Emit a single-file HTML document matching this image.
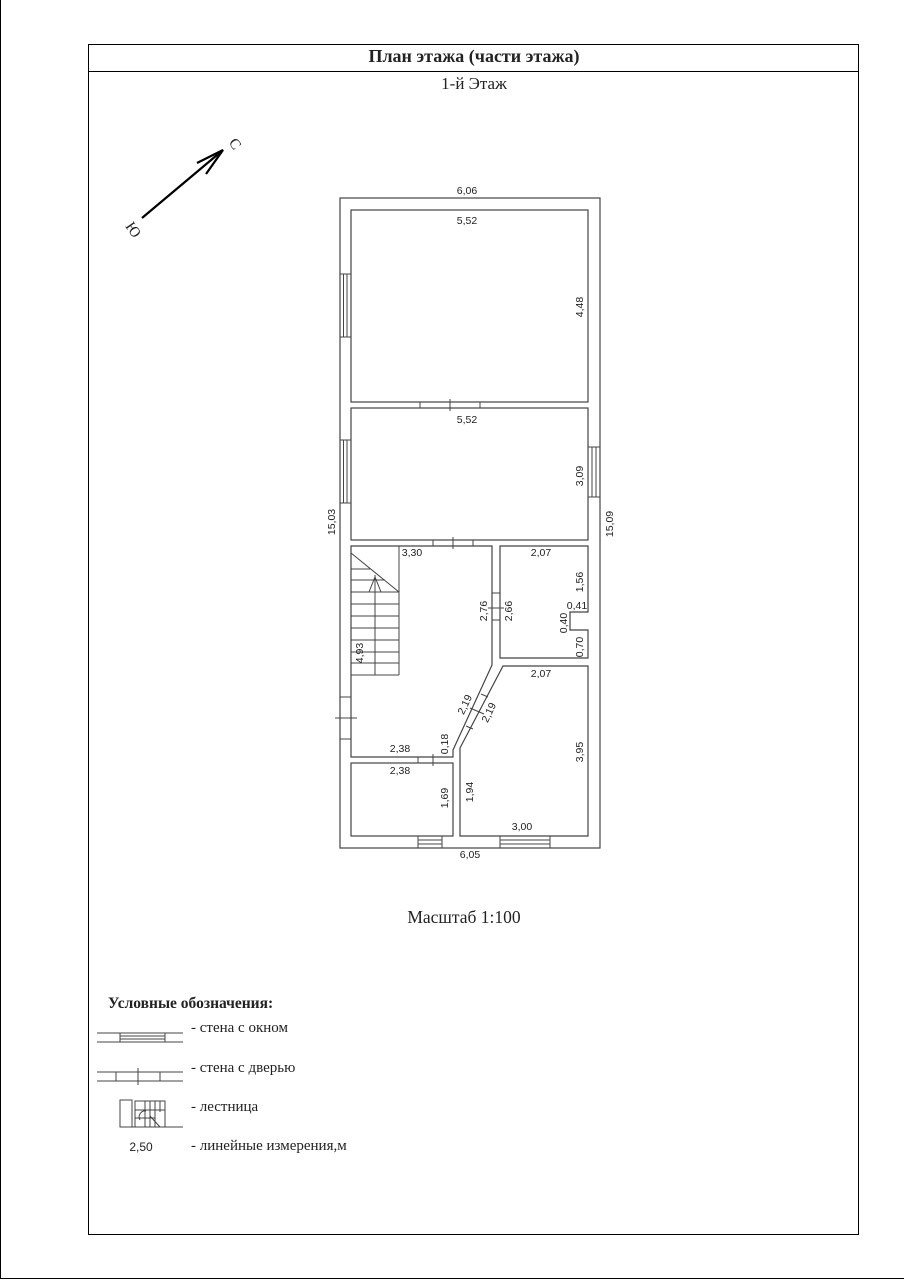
<!DOCTYPE html>
<html><head><meta charset="utf-8"><style>
body{margin:0;background:#fff;}
svg{display:block;}
text{font-family:"Liberation Sans",sans-serif;font-size:10.5px;fill:#222;}
.s{font-family:"Liberation Serif",serif;}
</style></head><body>
<svg width="904" height="1280" viewBox="0 0 904 1280" xmlns="http://www.w3.org/2000/svg">
<g fill="none" stroke="#000" stroke-width="1">
<line x1="0.5" y1="0" x2="0.5" y2="1279"/>
<line x1="0" y1="1278.5" x2="904" y2="1278.5"/>
<rect x="88.5" y="44.5" width="770" height="1190"/>
<line x1="88" y1="71.5" x2="859" y2="71.5"/>
</g>
<text class="s" x="474" y="62" text-anchor="middle" style="font-size:18px;font-weight:bold">План этажа (части этажа)</text>
<text class="s" x="474" y="89" text-anchor="middle" style="font-size:17px">1-й Этаж</text>
<g stroke="#000" stroke-width="2.2" fill="none">
<line x1="142" y1="218" x2="223" y2="150"/>
<polyline points="197,163 223,150 206,174"/>
</g>
<text class="s" x="227" y="145" transform="rotate(55 230 145)" style="font-size:15px">С</text>
<text class="s" x="124" y="232" transform="rotate(55 130 230)" style="font-size:15px">Ю</text>
<g fill="none" stroke="#444" stroke-width="1.2">
<rect x="340" y="198" width="260" height="650"/>
<rect x="351" y="210" width="237" height="192"/>
<rect x="351" y="408" width="237" height="132"/>
<polygon points="351,546 492,546 492,665 453,750 453,757 351,757"/>
<polygon points="500,546 588,546 588,612 570,612 570,630 588,630 588,658 500,658"/>
<polygon points="503,666 588,666 588,836 460,836 460,748"/>
<rect x="351" y="763" width="102" height="73"/>
<g stroke-width="1">
<rect x="340" y="274" width="11" height="63"/><line x1="343.5" y1="274" x2="343.5" y2="337"/><line x1="347" y1="274" x2="347" y2="337"/>
<rect x="340" y="440" width="11" height="63"/><line x1="343.5" y1="440" x2="343.5" y2="503"/><line x1="347" y1="440" x2="347" y2="503"/>
<rect x="588" y="447" width="12" height="50"/><line x1="592" y1="447" x2="592" y2="497"/><line x1="596" y1="447" x2="596" y2="497"/>
<rect x="418" y="836" width="24" height="12"/><line x1="418" y1="840" x2="442" y2="840"/><line x1="418" y1="844" x2="442" y2="844"/>
<rect x="500" y="836" width="50" height="12"/><line x1="500" y1="840" x2="550" y2="840"/><line x1="500" y1="844" x2="550" y2="844"/>
<line x1="420" y1="402" x2="420" y2="408"/><line x1="480" y1="402" x2="480" y2="408"/><line x1="450" y1="399" x2="450" y2="411"/>
<line x1="433" y1="540" x2="433" y2="546"/><line x1="473" y1="540" x2="473" y2="546"/><line x1="453" y1="537" x2="453" y2="549"/>
<line x1="340" y1="697" x2="351" y2="697"/><line x1="340" y1="739" x2="351" y2="739"/><line x1="335" y1="718" x2="357" y2="718"/>
<line x1="492" y1="593" x2="500" y2="593"/><line x1="492" y1="620" x2="500" y2="620"/><line x1="488" y1="608" x2="504" y2="608"/>
<line x1="418" y1="757" x2="418" y2="763"/><line x1="433" y1="754" x2="433" y2="766"/>
<line x1="481" y1="694" x2="488" y2="697"/><line x1="466" y1="726" x2="473" y2="729"/><line x1="470" y1="708" x2="484" y2="714"/>
<line x1="399" y1="546" x2="399" y2="675"/><line x1="351" y1="675" x2="399" y2="675"/>
<line x1="351" y1="553" x2="399" y2="592"/>
<line x1="375" y1="575" x2="375" y2="675"/>
<polyline points="369,592 375,577 381,592 369,592"/>
<line x1="351" y1="569" x2="370" y2="569"/><line x1="351" y1="580" x2="385" y2="580"/>
<line x1="351" y1="592" x2="399" y2="592"/><line x1="351" y1="604" x2="399" y2="604"/><line x1="351" y1="616" x2="399" y2="616"/><line x1="351" y1="628" x2="399" y2="628"/><line x1="351" y1="640" x2="399" y2="640"/><line x1="351" y1="652" x2="399" y2="652"/><line x1="351" y1="663" x2="399" y2="663"/>
</g>
</g>
<text x="467" y="194" text-anchor="middle">6,06</text>
<text x="467" y="224" text-anchor="middle">5,52</text>
<text x="467" y="423" text-anchor="middle">5,52</text>
<text x="412" y="556" text-anchor="middle">3,30</text>
<text x="541" y="556" text-anchor="middle">2,07</text>
<text x="541" y="677" text-anchor="middle">2,07</text>
<text x="400" y="752" text-anchor="middle">2,38</text>
<text x="400" y="774" text-anchor="middle">2,38</text>
<text x="522" y="830" text-anchor="middle">3,00</text>
<text x="470" y="858" text-anchor="middle">6,05</text>
<text transform="translate(583 307) rotate(-90)" text-anchor="middle">4,48</text>
<text transform="translate(583 476) rotate(-90)" text-anchor="middle">3,09</text>
<text transform="translate(335 522) rotate(-90)" text-anchor="middle">15,03</text>
<text transform="translate(613 524) rotate(-90)" text-anchor="middle">15,09</text>
<text transform="translate(583 582) rotate(-90)" text-anchor="middle">1,56</text>
<text x="577" y="609" text-anchor="middle">0,41</text>
<text transform="translate(567 623) rotate(-90)" text-anchor="middle">0,40</text>
<text transform="translate(583 647) rotate(-90)" text-anchor="middle">0,70</text>
<text transform="translate(487 611) rotate(-90)" text-anchor="middle">2,76</text>
<text transform="translate(512 611) rotate(-90)" text-anchor="middle">2,66</text>
<text transform="translate(363 653) rotate(-90)" text-anchor="middle">4,93</text>
<text transform="translate(468 706) rotate(-65)" text-anchor="middle">2,19</text>
<text transform="translate(492 714) rotate(-65)" text-anchor="middle">2,19</text>
<text transform="translate(448 744) rotate(-90)" text-anchor="middle">0,18</text>
<text transform="translate(583 752) rotate(-90)" text-anchor="middle">3,95</text>
<text transform="translate(448 798) rotate(-90)" text-anchor="middle">1,69</text>
<text transform="translate(473 792) rotate(-90)" text-anchor="middle">1,94</text>
<text class="s" x="464" y="923" text-anchor="middle" style="font-size:17.5px">Масштаб 1:100</text>
<text class="s" x="108" y="1008" style="font-size:15.5px;font-weight:bold">Условные обозначения:</text>
<g fill="none" stroke="#444" stroke-width="1">
<line x1="97" y1="1033" x2="183" y2="1033"/><line x1="97" y1="1042" x2="183" y2="1042"/>
<rect x="120" y="1033" width="45" height="9"/><line x1="120" y1="1036" x2="165" y2="1036"/><line x1="120" y1="1039" x2="165" y2="1039"/>
<line x1="97" y1="1072" x2="183" y2="1072"/><line x1="97" y1="1081" x2="183" y2="1081"/>
<line x1="116" y1="1072" x2="116" y2="1081"/><line x1="160" y1="1072" x2="160" y2="1081"/><line x1="138" y1="1068" x2="138" y2="1085"/>
<line x1="126" y1="1127" x2="183" y2="1127"/>
<rect x="120" y="1100" width="12" height="27"/>
<rect x="135" y="1101" width="30" height="26"/>
<line x1="145" y1="1101" x2="145" y2="1127"/><line x1="150" y1="1101" x2="150" y2="1127"/><line x1="155" y1="1101" x2="155" y2="1127"/><line x1="160" y1="1101" x2="160" y2="1112"/>
<line x1="135" y1="1110" x2="165" y2="1110"/><line x1="135" y1="1118" x2="155" y2="1118"/>
<path d="M140 1120 a6 6 0 0 1 6 -9"/><line x1="150" y1="1116" x2="160" y2="1127"/>
</g>
<text class="s" x="191" y="1032" style="font-size:15px">- стена с окном</text>
<text class="s" x="191" y="1072" style="font-size:15px">- стена с дверью</text>
<text class="s" x="191" y="1111" style="font-size:15px">- лестница</text>
<text class="s" x="191" y="1150" style="font-size:15px">- линейные измерения,м</text>
<text x="141" y="1151" text-anchor="middle" style="font-size:12px">2,50</text>
</svg>
</body></html>
